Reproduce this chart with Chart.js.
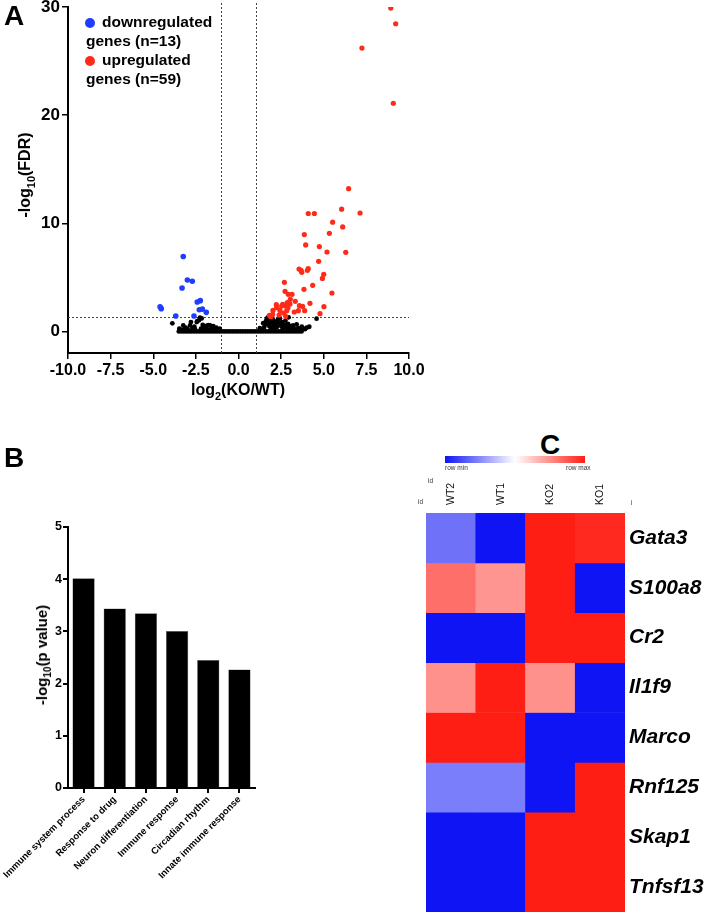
<!DOCTYPE html>
<html>
<head>
<meta charset="utf-8">
<script src="https://cdn.jsdelivr.net/npm/chart.js@4.4.0/dist/chart.umd.min.js"></script>
<style>
  body { margin: 0; background: #fff; }
  #page { position: relative; width: 708px; height: 920px; overflow: hidden; font-family: "Liberation Sans", Arial, sans-serif; color: #000; }
  canvas, .lbl { position: absolute; }
  .panel { font-weight: bold; font-size: 28px; line-height: 28px; }
  .title { font-weight: bold; font-size: 16px; line-height: 18px; white-space: nowrap; }
  .legend { font-weight: bold; font-size: 15.5px; line-height: 19px; white-space: nowrap; }
  .dot { display: inline-block; width: 10px; height: 10px; border-radius: 50%; margin-right: 7px; vertical-align: -1px; }
  .tiny { font-size: 6.5px; line-height: 7px; color: #333; }
</style>
</head>
<body>
<div id="page">
  <canvas id="volcano" width="460" height="400" style="left:0;top:0"></canvas>
  <canvas id="goBar" width="320" height="460" style="left:0;top:440px"></canvas>
  <canvas id="heat" width="308" height="450" style="left:400px;top:470px"></canvas>

  <div class="lbl panel" style="left:4px;top:2px">A</div>
  <div class="lbl panel" style="left:4px;top:444px">B</div>
  <div class="lbl panel" style="left:540px;top:431px">C</div>

  <!-- volcano legend + axis titles -->
  <div class="lbl legend" style="left:85px;top:12px">
    <div><span class="dot" style="background:#1f3dff"></span>downregulated</div>
    <div style="margin-left:1px">genes (n=13)</div>
    <div><span class="dot" style="background:#ff2a17"></span>upregulated</div>
    <div style="margin-left:1px">genes (n=59)</div>
  </div>
  <div class="lbl title" style="left:28px;top:175px;transform:translate(-50%,-50%) rotate(-90deg)">-log<sub style="font-size:11px">10</sub>(FDR)</div>
  <div class="lbl title" style="left:238px;top:393px;transform:translate(-50%,-50%)">log<sub style="font-size:11px">2</sub>(KO/WT)</div>

  <!-- GO bar axis title -->
  <div class="lbl title" style="left:45px;top:655px;font-size:15px;transform:translate(-50%,-50%) rotate(-90deg)">-log<sub style="font-size:10px">10</sub>(p value)</div>

  <!-- heatmap colour key -->
  <div class="lbl" style="left:445px;top:456px;width:140px;height:7px;background:linear-gradient(to right, rgb(15,20,245), #fff, rgb(255,30,20))"></div>
  <div class="lbl tiny" style="left:445px;top:464px">row min</div>
  <div class="lbl tiny" style="left:566px;top:464px">row max</div>
  <div class="lbl tiny" style="left:428px;top:477px">id</div>
  <div class="lbl tiny" style="left:418px;top:498px">id</div>
  <div class="lbl tiny" style="left:631px;top:499px">i</div>
</div>

<script>
// ---- panel A: volcano plot ----
const foldCuts = [-1, 1];
const fdrCut = 1.3;
const volcanoXTicks = [-10, -7.5, -5, -2.5, 0, 2.5, 5, 7.5, 10];
const volcanoYTicks = [0, 10, 20, 30];

// [log2 fold change, -log10 FDR]
const downGenes = [
  [-3.24, 6.92], [-3.0, 4.75], [-2.71, 4.63], [-3.31, 4.01], [-2.24, 2.84], [-2.42, 2.71],
  [-4.6, 2.28], [-4.53, 2.10], [-2.3, 2.0], [-2.12, 2.06], [-1.89, 1.76], [-3.68, 1.42], [-2.61, 1.42]
];
const upGenes = [
  [8.93, 29.9], [9.22, 28.45], [7.24, 26.2], [9.08, 21.1], [6.46, 13.2],
  [4.09, 10.9], [4.45, 10.9], [6.05, 11.3], [7.13, 10.95], [5.52, 10.1], [5.33, 9.07], [6.11, 9.66],
  [3.86, 8.95], [3.94, 8.0], [4.74, 7.84], [5.19, 7.34], [6.29, 7.31], [4.70, 6.48],
  [3.55, 5.77], [3.67, 5.65], [3.71, 5.46], [4.09, 5.8], [4.04, 5.65], [5.0, 5.28], [4.92, 4.9],
  [2.69, 4.54], [4.35, 4.26], [3.84, 3.89], [5.48, 3.55], [2.73, 3.7], [2.92, 3.43], [3.14, 3.43],
  [3.04, 2.96], [3.33, 2.78], [2.86, 2.65], [2.22, 2.47], [2.59, 2.5], [3.02, 2.53], [3.57, 2.38],
  [3.76, 2.31], [4.19, 2.59], [5.01, 2.28], [2.24, 2.19], [2.53, 2.34], [2.77, 2.34], [2.90, 2.19],
  [2.02, 1.94], [2.43, 1.94], [2.83, 1.91], [3.27, 1.79], [3.51, 1.91], [3.88, 1.91],
  [2.0, 1.57], [1.81, 1.48], [2.38, 1.51], [2.77, 1.39], [4.78, 1.64], [1.89, 1.36], [2.65, 1.7]
];
const otherGenes = [
  [-3.5, 0], [-3.35, 0], [-3.2, 0], [-3.05, 0], [-2.9, 0], [-2.75, 0], [-2.6, 0], [-2.45, 0],
  [-2.3, 0], [-2.15, 0], [-2.0, 0], [-1.85, 0], [-1.7, 0], [-1.55, 0], [-1.4, 0], [-1.25, 0],
  [-1.1, 0], [-0.95, 0], [-0.8, 0], [-0.65, 0], [-0.5, 0], [-0.35, 0], [-0.2, 0], [-0.05, 0],
  [0.1, 0], [0.25, 0], [0.4, 0], [0.55, 0], [0.7, 0], [0.85, 0], [1.0, 0], [1.15, 0],
  [1.3, 0], [1.45, 0], [1.6, 0], [1.75, 0], [1.9, 0], [2.05, 0], [2.2, 0], [2.35, 0],
  [2.5, 0], [2.65, 0], [2.8, 0], [2.95, 0], [3.1, 0], [3.25, 0], [3.4, 0], [3.55, 0], [3.7, 0],
  [-3.88, 0.74], [-3.47, 0.25], [-3.3, 0.15], [-3.24, 0.55], [-3.1, 0.35], [-3.0, 0.2], [-2.95, 0.1],
  [-2.84, 0.55], [-2.79, 0.86], [-2.7, 0.3], [-2.59, 0.43], [-2.55, 0.2], [-2.45, 0.86], [-2.42, 0.95],
  [-2.32, 1.02], [-2.26, 1.27], [-2.2, 0.25], [-2.16, 1.2], [-2.1, 0.6], [-2.0, 0.35], [-1.9, 0.5],
  [-1.85, 0.2], [-1.77, 0.58], [-1.67, 0.55], [-1.6, 0.3], [-1.48, 0.49], [-1.4, 0.2], [-1.3, 0.35],
  [-1.2, 0.15], [-1.1, 0.25],
  [1.25, 0.3], [1.3, 0.1], [1.4, 0.2], [1.45, 0.75], [1.5, 0.35], [1.55, 0.6], [1.6, 0.9], [1.65, 1.1],
  [1.7, 1.27], [1.75, 0.75], [1.8, 0.5], [1.85, 1.0], [1.9, 0.3], [1.95, 0.8], [2.0, 1.15], [2.05, 0.55],
  [2.1, 0.25], [2.15, 0.9], [2.2, 0.65], [2.25, 0.4], [2.3, 1.05], [2.35, 0.75], [2.43, 1.2], [2.5, 0.5],
  [2.55, 0.85], [2.6, 0.3], [2.6, 0.15], [2.7, 0.6], [2.75, 1.0], [2.8, 0.4], [2.9, 0.7], [2.92, 0.25],
  [2.94, 1.3], [3.0, 0.5], [3.0, 0.15], [3.1, 0.3], [3.2, 0.55], [3.21, 0.43], [3.3, 0.2], [3.41, 0.65],
  [3.5, 0.3], [3.6, 0.15], [3.71, 0.43], [3.8, 0.25], [3.9, 0.2], [4.0, 0.34], [4.15, 0.43], [4.58, 1.17]
];

// ---- panel B: GO terms ----
const goTerms = ['Immune system process', 'Response to drug', 'Neuron differentiation',
  'Immune response', 'Circadian rhythm', 'Innate immune response'];
const goScores = [4.02, 3.44, 3.35, 3.01, 2.45, 2.27];
const goYTicks = [0, 1, 2, 3, 4, 5];

// ---- panel C: heatmap (row-scaled, -1 = row min, 1 = row max) ----
const samples = ['WT2', 'WT1', 'KO2', 'KO1'];
const genes = ['Gata3', 'S100a8', 'Cr2', 'Il1f9', 'Marco', 'Rnf125', 'Skap1', 'Tnfsf13'];
const heatRows = [
  [-0.6, -1, 1, 0.95],
  [0.64, 0.47, 1, -1],
  [-1, -1, 1, 1],
  [0.49, 1, 0.49, -1],
  [1, 1, -1, -1],
  [-0.55, -0.55, -1, 1],
  [-1, -1, 1, 1],
  [-1, -1, 1, 1]
];
const rowTicks = [0.5, 1.5, 2.5, 3.5, 4.5, 5.5, 6.5, 7.5];

Chart.defaults.font.family = '"Liberation Sans", Arial, sans-serif';
Chart.defaults.color = '#000';

const toPts = arr => arr.map(p => ({ x: p[0], y: p[1] }));

// dotted cut-off lines, drawn under the points
const cutLines = {
  id: 'cutLines',
  beforeDatasetsDraw(chart) {
    const { ctx, chartArea, scales: { x, y } } = chart;
    ctx.save();
    ctx.setLineDash([2, 2]);
    ctx.strokeStyle = '#444';
    ctx.lineWidth = 1;
    foldCuts.forEach(v => {
      const px = Math.round(x.getPixelForValue(v)) + 0.5;
      ctx.beginPath();
      ctx.moveTo(px, chartArea.top - 4);
      ctx.lineTo(px, chartArea.bottom);
      ctx.stroke();
    });
    const py = Math.round(y.getPixelForValue(fdrCut)) + 0.5;
    ctx.beginPath();
    ctx.moveTo(chartArea.left, py);
    ctx.lineTo(chartArea.right, py);
    ctx.stroke();
    ctx.restore();
  }
};

// sample names above the heatmap, rotated like the original
const colLabels = {
  id: 'colLabels',
  afterDraw(chart) {
    const { ctx, chartArea, scales: { x } } = chart;
    ctx.save();
    ctx.font = '10.5px "Liberation Sans", Arial, sans-serif';
    ctx.fillStyle = '#111';
    ctx.textAlign = 'left';
    ctx.textBaseline = 'middle';
    samples.forEach((s, i) => {
      ctx.save();
      ctx.translate(x.getPixelForTick(i), chartArea.top - 8);
      ctx.rotate(-Math.PI / 2);
      ctx.fillText(s, 0, 0);
      ctx.restore();
    });
    ctx.restore();
  }
};

new Chart(document.getElementById('volcano'), {
  type: 'scatter',
  data: {
    datasets: [
      { data: toPts(downGenes), backgroundColor: '#1f3dff', borderColor: '#1f3dff', pointRadius: 2.8, borderWidth: 0 },
      { data: toPts(upGenes), backgroundColor: '#ff2a17', borderColor: '#ff2a17', pointRadius: 2.6, borderWidth: 0 },
      { data: toPts(otherGenes), backgroundColor: '#000', borderColor: '#000', pointRadius: 2.4, borderWidth: 0 }
    ]
  },
  options: {
    responsive: false,
    animation: false,
    devicePixelRatio: 1,
    layout: { padding: { top: 7, right: 51, bottom: 7, left: 0 } },
    plugins: { legend: { display: false }, tooltip: { enabled: false } },
    scales: {
      x: {
        type: 'linear', min: -10, max: 10,
        afterBuildTicks: a => { a.ticks = volcanoXTicks.map(v => ({ value: v })); },
        afterFit: s => { s.height = 40; },
        ticks: { callback: v => v.toFixed(1), font: { size: 16, weight: 'bold' }, padding: 2, maxRotation: 0, autoSkip: false },
        grid: { drawOnChartArea: false, color: '#000', lineWidth: 1.5, tickLength: 6 },
        border: { color: '#000', width: 2 }
      },
      y: {
        type: 'linear', min: -2, max: 30,
        afterBuildTicks: a => { a.ticks = volcanoYTicks.map(v => ({ value: v })); },
        afterFit: s => { s.width = 68; s.paddingTop = 0; s.paddingBottom = 0; },
        ticks: { font: { size: 17, weight: 'bold' }, padding: 2 },
        grid: { drawOnChartArea: false, color: '#000', lineWidth: 1.5, tickLength: 6 },
        border: { color: '#000', width: 2 }
      }
    }
  },
  plugins: [cutLines]
});

new Chart(document.getElementById('goBar'), {
  type: 'bar',
  data: {
    labels: goTerms,
    datasets: [{ data: goScores, backgroundColor: '#000', borderColor: '#666', borderWidth: 0.5,
      barPercentage: 0.715, categoryPercentage: 1 }]
  },
  options: {
    responsive: false,
    animation: false,
    devicePixelRatio: 1,
    layout: { padding: { top: 87, right: 65, bottom: 0, left: 0 } },
    plugins: { legend: { display: false }, tooltip: { enabled: false } },
    scales: {
      x: {
        afterFit: s => { s.height = 112; s.paddingLeft = 0; s.paddingRight = 0; },
        ticks: { minRotation: 45, maxRotation: 45, autoSkip: false, padding: 1, font: { size: 9.5, weight: 'bold' } },
        grid: { drawOnChartArea: false, offset: false, color: '#000', lineWidth: 2, tickLength: 5 },
        border: { color: '#000', width: 2 }
      },
      y: {
        min: 0, max: 5,
        afterBuildTicks: a => { a.ticks = goYTicks.map(v => ({ value: v })); },
        afterFit: s => { s.width = 68; },
        ticks: { font: { size: 12.5, weight: 'bold' }, padding: 1 },
        grid: { drawOnChartArea: false, color: '#000', lineWidth: 2, tickLength: 5 },
        border: { color: '#000', width: 2 }
      }
    }
  }
});

function heatColor(v) {
  const t = Math.min(Math.abs(v), 1);
  const end = v < 0 ? [15, 20, 245] : [255, 30, 20];
  const c = end.map(e => Math.round(255 + (e - 255) * t));
  return 'rgb(' + c.join(',') + ')';
}

new Chart(document.getElementById('heat'), {
  type: 'bar',
  data: {
    labels: samples,
    datasets: genes.map((g, i) => ({
      label: g,
      data: samples.map(() => 1),
      backgroundColor: heatRows[i].map(heatColor),
      borderWidth: 0,
      barPercentage: 1,
      categoryPercentage: 1
    }))
  },
  options: {
    responsive: false,
    animation: false,
    devicePixelRatio: 1,
    layout: { padding: { top: 0, right: 0, bottom: 8, left: 26 } },
    plugins: { legend: { display: false }, tooltip: { enabled: false } },
    scales: {
      x: {
        position: 'top', stacked: true,
        afterFit: s => { s.height = 43; s.paddingLeft = 0; s.paddingRight = 0; },
        ticks: { display: false },
        grid: { display: false, drawTicks: false },
        border: { display: false }
      },
      y: {
        type: 'linear', position: 'right', stacked: true, reverse: true, min: 0, max: 8,
        afterBuildTicks: a => { a.ticks = rowTicks.map(v => ({ value: v })); },
        afterFit: s => { s.width = 83; s.paddingTop = 0; s.paddingBottom = 0; },
        ticks: { callback: (v, i) => genes[i], padding: 4, font: { size: 21, weight: 'bold', style: 'italic' } },
        grid: { display: false, drawTicks: false },
        border: { display: false }
      }
    }
  },
  plugins: [colLabels]
});
</script>
</body>
</html>
